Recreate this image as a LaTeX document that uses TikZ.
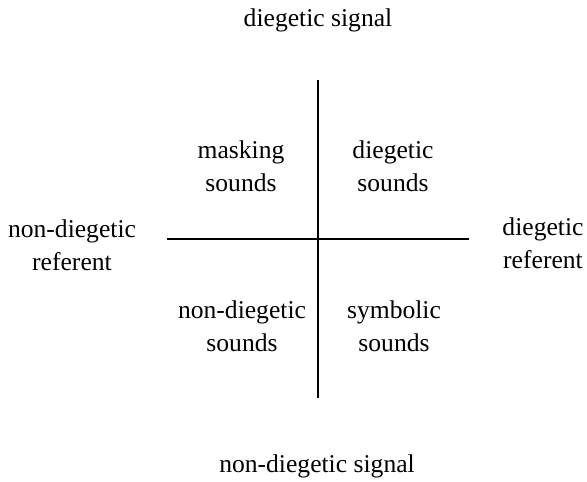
\documentclass[tikz,border=0pt]{standalone}
\usepackage{fontspec}
\setmainfont{Liberation Serif}
\usetikzlibrary{positioning}

\tikzset{
  lbl/.style={align=center,inner sep=0pt,font=\fontsize{12.8}{16.5}\selectfont},
  axisline/.style={line width=1pt}
}

\begin{document}
\begin{tikzpicture}[x=0.5pt,y=-0.5pt]
        \useasboundingbox (0,0) rectangle (587,481);
        % axes
        \coordinate (top) at (318,80);
        \coordinate (bot) at (318,398);
        \coordinate (left) at (167,239);
        \coordinate (right) at (469,239);
        \draw[axisline] (top) -- (bot);
        \draw[axisline] (left) -- (right);
        % axis ends
        \node[lbl] (sig) at (318,20) {diegetic signal};
        \node[lbl] (nsig) at (317,466) {non-diegetic signal};
        \node[lbl] (nref) at (72,245) {non-diegetic\\referent};
        \node[lbl] (ref) at (543,243) {diegetic\\referent};
        % quadrants
        \node[lbl] (mask) at (241,166) {masking\\sounds};
        \node[lbl] (dieg) at (393,166) {diegetic\\sounds};
        \node[lbl] (ndieg) at (242,326) {non-diegetic\\sounds};
        \node[lbl] (symb) at (394,326) {symbolic\\sounds};
\end{tikzpicture}
\end{document}
